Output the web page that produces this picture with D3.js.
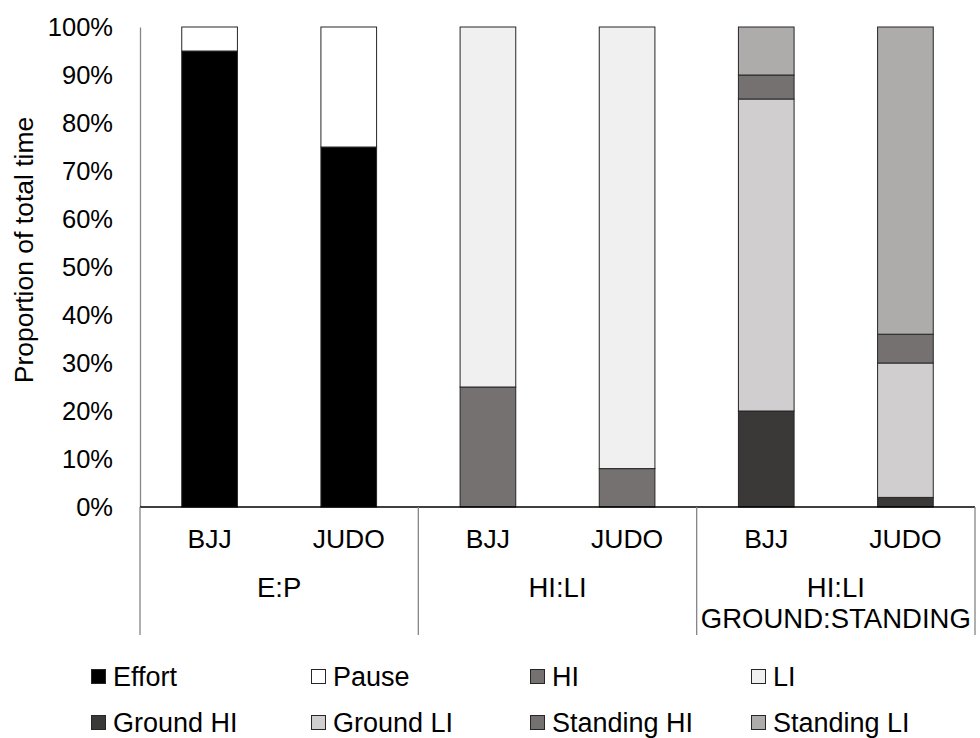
<!DOCTYPE html>
<html>
<head>
<meta charset="utf-8">
<script src="https://cdn.jsdelivr.net/npm/d3@7"></script>
<style>
  html, body { margin: 0; padding: 0; background: #fff; }
  svg { display: block; font-family: "Liberation Sans", Arial, sans-serif; }
</style>
</head>
<body>
<svg id="chart" width="980" height="738"></svg>
<script>
// ---- data ----
const categories = ["BJJ", "JUDO", "BJJ", "JUDO", "BJJ", "JUDO"];
const groupLabels = [["E:P"], ["HI:LI"], ["HI:LI", "GROUND:STANDING"]];
const seriesNames = ["Effort", "Pause", "HI", "LI", "Ground HI", "Ground LI", "Standing HI", "Standing LI"];
const effort     = [95, 75, 0, 0, 0, 0];
const pause      = [5, 25, 0, 0, 0, 0];
const hi         = [0, 0, 25, 8, 0, 0];
const li         = [0, 0, 75, 92, 0, 0];
const groundHI   = [0, 0, 0, 0, 20, 2];
const groundLI   = [0, 0, 0, 0, 65, 28];
const standingHI = [0, 0, 0, 0, 5, 6];
const standingLI = [0, 0, 0, 0, 10, 64];
const yTicks = [0, 10, 20, 30, 40, 50, 60, 70, 80, 90, 100];
const colors = ["#000000", "#ffffff", "#767171", "#f0f0f0", "#3b3838", "#d0cece", "#767171", "#aeabab"];

// ---- build table ----
const seriesVals = [effort, pause, hi, li, groundHI, groundLI, standingHI, standingLI];
const keys = seriesNames;
const rows = categories.map((c, i) => {
  const r = { idx: i, cat: c };
  keys.forEach((k, j) => r[k] = seriesVals[j][i]);
  return r;
});

const FONT = "Liberation Sans, Arial, sans-serif";
const svg = d3.select("#chart");
const m = { left: 140, right: 975, top: 27, bottom: 507 };

const x = d3.scaleBand().domain(d3.range(categories.length))
  .range([m.left, m.right]).paddingInner(0.6).paddingOuter(0.3);
const y = d3.scaleLinear().domain([0, 100]).range([m.bottom, m.top]);
const color = d3.scaleOrdinal().domain(keys).range(colors);

const stacked = d3.stack().keys(keys)(rows);

// bars
const g = svg.append("g");
stacked.forEach(layer => {
  g.selectAll(null)
    .data(layer.filter(d => d[1] - d[0] > 0))
    .enter().append("rect")
    .attr("x", d => x(d.data.idx))
    .attr("width", x.bandwidth())
    .attr("y", d => y(d[1]))
    .attr("height", d => y(d[0]) - y(d[1]))
    .attr("fill", color(layer.key))
    .attr("stroke", "#262626")
    .attr("stroke-width", 1);
});

// y axis
const yAxis = d3.axisLeft(y).tickValues(yTicks).tickFormat(d => d + "%").tickSize(0).tickPadding(27);
const ya = svg.append("g").attr("transform", `translate(${m.left},0)`).call(yAxis);
ya.select(".domain").attr("stroke", "#868686").attr("stroke-width", 1.3);
ya.selectAll("text").attr("font-size", 25.5).attr("fill", "#000").attr("font-family", FONT);

// x axis line
svg.append("line").attr("x1", m.left).attr("x2", m.right)
  .attr("y1", m.bottom).attr("y2", m.bottom)
  .attr("stroke", "#000").attr("stroke-width", 1.5);

// group separators
const step = x.step();
const groupEdges = [0, 2, 4, 6].map(i => m.left + i * step);
groupEdges.forEach(gx => {
  svg.append("line").attr("x1", gx).attr("x2", gx)
    .attr("y1", m.bottom).attr("y2", 635)
    .attr("stroke", "#868686").attr("stroke-width", 1.3);
});

// category labels
const xAxis = d3.axisBottom(x).tickFormat(i => categories[i]).tickSize(0).tickPadding(0);
const xa = svg.append("g").attr("transform", `translate(0,${m.bottom})`).call(xAxis);
xa.select(".domain").remove();
xa.selectAll("text").attr("font-size", 26.5).attr("fill", "#000").attr("font-family", FONT)
  .attr("dy", null).attr("y", 548 - m.bottom);

// group labels
groupLabels.forEach((lines, gi) => {
  const cx = (groupEdges[gi] + groupEdges[gi + 1]) / 2;
  lines.forEach((t, li2) => {
    svg.append("text").attr("x", cx).attr("y", 597 + li2 * 31)
      .attr("text-anchor", "middle").attr("font-size", 27.5).text(t);
  });
});

// y title
svg.append("text")
  .attr("transform", `translate(33,250) rotate(-90)`)
  .attr("text-anchor", "middle").attr("font-size", 26.5)
  .text("Proportion of total time");

// legend
const legX = [91, 311, 530, 751];
const legY = [686, 732];
keys.forEach((k, i) => {
  const lx = legX[i % 4], base = legY[Math.floor(i / 4)];
  svg.append("rect").attr("x", lx + 0.5).attr("y", base - 16.5).attr("width", 14).attr("height", 14)
    .attr("fill", color(k)).attr("stroke", "#262626").attr("stroke-width", 1);
  svg.append("text").attr("x", lx + 22).attr("y", base)
    .attr("font-size", 27).text(k);
});
</script>
</body>
</html>
